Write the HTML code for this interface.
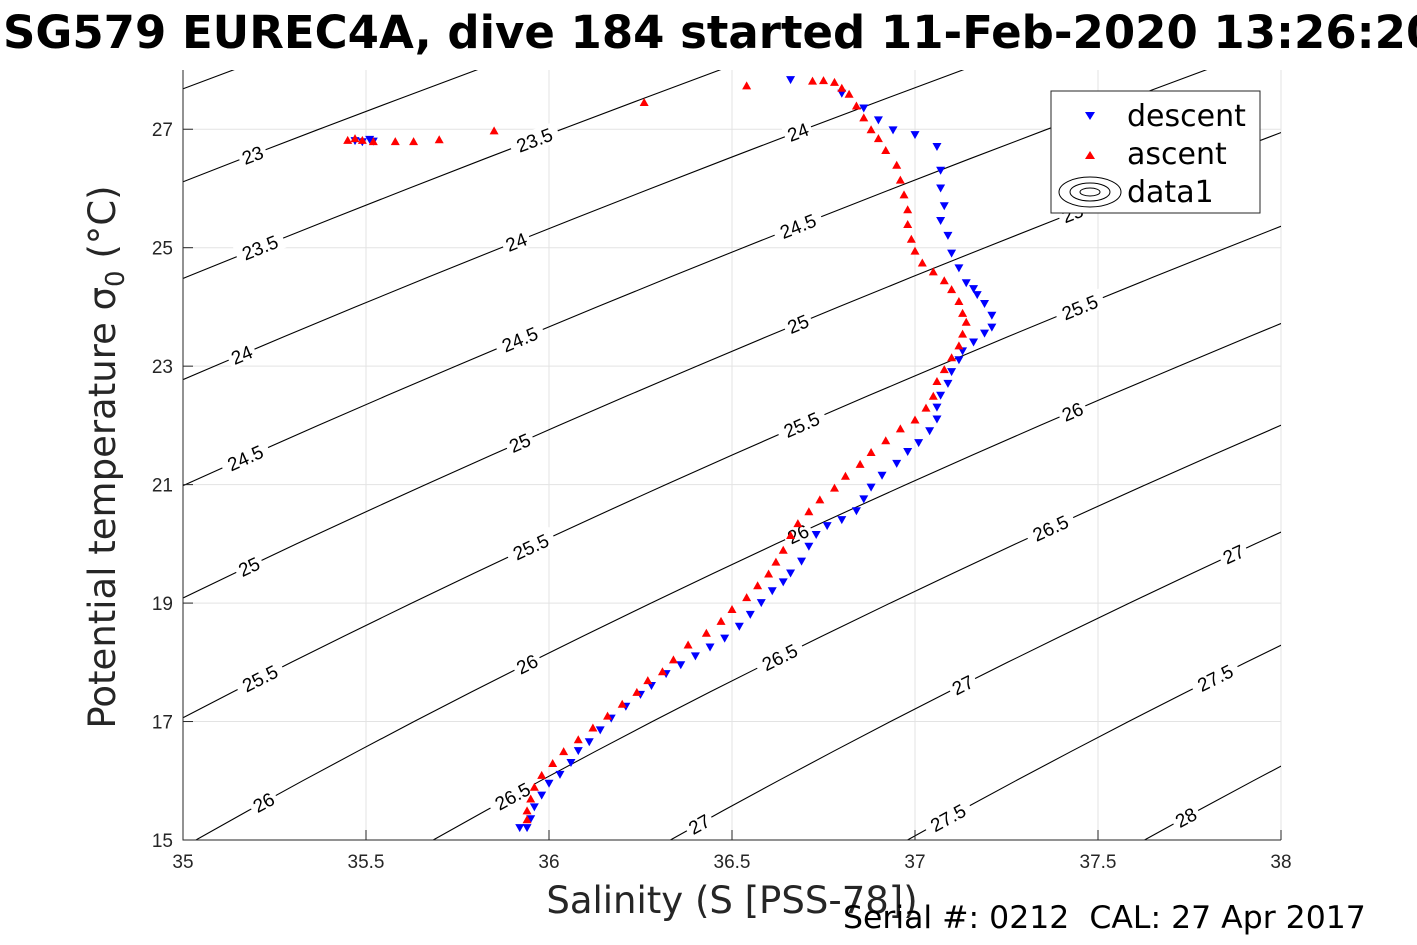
<!DOCTYPE html>
<html><head><meta charset="utf-8">
<style>
html,body{margin:0;padding:0;background:#fff;overflow:hidden;}
svg{display:block;font-family:"Liberation Sans","DejaVu Sans",sans-serif;}
</style></head>
<body>
<svg id="chart" width="1417" height="945" viewBox="0 0 1417 945" xmlns="http://www.w3.org/2000/svg">
<defs><clipPath id="clip"><rect x="183" y="70" width="1098" height="770"/></clipPath></defs>
<rect width="1417" height="945" fill="#fff"/>
<text x="3" y="48" font-size="45" font-weight="bold" fill="#000" font-family="DejaVu Sans, sans-serif">SG579 EUREC4A, dive 184 started 11-Feb-2020 13:26:20</text>
<g id="grid"></g>
<g id="contours" clip-path="url(#clip)"></g>
<g id="clabels"></g>
<g id="series" clip-path="url(#clip)"></g>
<g id="axes"></g>
<text transform="translate(115,457) rotate(-90)" text-anchor="middle" font-size="37" fill="#262626" font-family="DejaVu Sans, sans-serif">Potential temperature σ<tspan font-size="26" dy="9">0</tspan><tspan dy="-9"> (°C)</tspan></text>
<text x="732" y="913" text-anchor="middle" font-size="37" fill="#262626" font-family="DejaVu Sans, sans-serif">Salinity (S [PSS-78])</text>
<text x="843" y="928" font-size="31.5" fill="#000" font-family="DejaVu Sans, sans-serif" xml:space="preserve">Serial #: 0212  CAL: 27 Apr 2017</text>
<g>
<rect x="1051" y="91" width="209" height="122" fill="#fff" stroke="#262626" stroke-width="1"/>
<polygon points="1085,112 1095,112 1090,120" fill="#00f"/>
<text x="1127" y="126" font-size="30" font-family="DejaVu Sans, sans-serif">descent</text>
<polygon points="1085,159 1095,159 1090,151" fill="#f00"/>
<text x="1127" y="164" font-size="30" font-family="DejaVu Sans, sans-serif">ascent</text>
<g fill="none" stroke="#000" stroke-width="1">
<ellipse cx="1090" cy="192" rx="31" ry="15"/><ellipse cx="1090" cy="192" rx="20" ry="9"/><ellipse cx="1090" cy="192" rx="10" ry="4"/></g>
<text x="1127" y="202" font-size="30" font-family="DejaVu Sans, sans-serif">data1</text>
</g>
</svg>
<script>
const xTicks=[35,35.5,36,36.5,37,37.5,38];
const yTicks=[15,17,19,21,23,25,27];
const levels=[22.5,23,23.5,24,24.5,25,25.5,26,26.5,27,27.5,28,28.5];
const labelLevels=[23,23.5,24,23.5,24,24.5,25,24,24.5,25,25.5,24.5,25,25.5,26,25,25.5,26,26.5,25.5,26,26.5,27,26,26.5,27,27.5,27,27.5,28];
const labelS=[35.19,35.96,36.68,35.21,35.91,36.68,37.43,35.16,35.92,36.68,37.45,35.17,35.92,36.69,37.43,35.18,35.95,36.68,37.37,35.21,35.94,36.63,37.87,35.22,35.90,37.13,37.82,36.41,37.09,37.74];
const descS=[35.47,35.49,35.51,35.52,36.66,36.80,36.86,36.90,36.94,37.0,37.06,37.07,37.07,37.08,37.07,37.09,37.10,37.12,37.14,37.16,37.17,37.19,37.21,37.21,37.19,37.16,37.13,37.12,37.10,37.09,37.07,37.06,37.06,37.04,37.01,36.98,36.95,36.91,36.88,36.86,36.84,36.80,36.76,36.73,36.71,36.69,36.66,36.64,36.61,36.58,36.55,36.52,36.48,36.44,36.40,36.36,36.32,36.28,36.25,36.21,36.17,36.14,36.11,36.08,36.06,36.03,36.00,35.98,35.96,35.95,35.94,35.92];
const descT=[26.80,26.78,26.82,26.79,27.83,27.6,27.35,27.15,26.98,26.9,26.7,26.3,26.0,25.7,25.45,25.2,24.9,24.65,24.4,24.3,24.2,24.05,23.85,23.65,23.55,23.4,23.25,23.1,22.9,22.7,22.5,22.3,22.1,21.9,21.7,21.55,21.35,21.15,20.95,20.75,20.55,20.4,20.3,20.15,19.95,19.7,19.5,19.35,19.2,19.0,18.8,18.6,18.4,18.25,18.1,17.95,17.8,17.6,17.45,17.25,17.05,16.85,16.65,16.5,16.3,16.1,15.95,15.75,15.55,15.35,15.2,15.2];
const ascS=[35.45,35.47,35.49,35.52,35.58,35.63,35.70,35.85,36.26,36.54,36.72,36.75,36.78,36.80,36.82,36.84,36.86,36.88,36.90,36.92,36.95,36.96,36.97,36.98,36.98,36.99,37.0,37.02,37.05,37.08,37.10,37.12,37.13,37.14,37.13,37.12,37.10,37.08,37.06,37.05,37.03,37.0,36.96,36.92,36.88,36.85,36.81,36.78,36.74,36.71,36.68,36.66,36.64,36.62,36.60,36.57,36.54,36.50,36.47,36.43,36.38,36.34,36.31,36.27,36.24,36.20,36.16,36.12,36.08,36.04,36.01,35.98,35.96,35.95,35.94,35.94];
const ascT=[26.82,26.85,26.82,26.80,26.80,26.80,26.83,26.98,27.46,27.74,27.82,27.83,27.8,27.7,27.6,27.4,27.2,27.0,26.85,26.65,26.4,26.15,25.9,25.65,25.4,25.15,24.95,24.75,24.6,24.45,24.3,24.1,23.9,23.75,23.55,23.35,23.15,22.95,22.75,22.5,22.3,22.1,21.95,21.75,21.55,21.35,21.15,20.95,20.75,20.55,20.35,20.15,19.9,19.7,19.5,19.3,19.1,18.9,18.7,18.5,18.3,18.05,17.85,17.7,17.5,17.3,17.1,16.9,16.7,16.5,16.3,16.1,15.9,15.7,15.5,15.35];

const X0=183,X1=1281,Y0=840,Y1=70,SMIN=35,SMAX=38,TMIN=15,TMAX=28;
function xs(s){return X0+(s-SMIN)/(SMAX-SMIN)*(X1-X0);}
function ys(t){return Y0-(t-TMIN)/(TMAX-TMIN)*(Y0-Y1);}
function sigma(S,T){
 const rw=999.842594+6.793952e-2*T-9.095290e-3*T*T+1.001685e-4*T**3-1.120083e-6*T**4+6.536332e-9*T**5;
 const r=rw+S*(0.824493-4.0899e-3*T+7.6438e-5*T*T-8.2467e-7*T**3+5.3875e-9*T**4)+Math.pow(S,1.5)*(-5.72466e-3+1.0227e-4*T-1.6546e-6*T*T)+4.8314e-4*S*S;
 return r-1000;}
function solveS(lev,T){let a=25,b=45;for(let i=0;i<50;i++){const m=(a+b)/2;if(sigma(m,T)<lev)a=m;else b=m;}return (a+b)/2;}
function solveT(lev,S){let a=0,b=40;for(let i=0;i<50;i++){const m=(a+b)/2;if(sigma(S,m)>lev)a=m;else b=m;}return (a+b)/2;}
const NS='http://www.w3.org/2000/svg';
function mk(tag,attrs,parent){const e=document.createElementNS(NS,tag);for(const k in attrs)e.setAttribute(k,attrs[k]);parent.appendChild(e);return e;}
const grid=document.getElementById('grid'),axes=document.getElementById('axes');
xTicks.forEach(v=>{
 const g=mk('line',{x1:xs(v),x2:xs(v),y1:Y1,y2:Y0,stroke:'#e3e3e3','stroke-width':1},grid);
 
 
 const t=mk('line',{x1:xs(v),x2:xs(v),y1:Y0,y2:Y0-10,stroke:'#262626','stroke-width':1},axes);
 
 
 const l=mk('text',{x:xs(v),y:868,'text-anchor':'middle','font-size':19,fill:'#262626'},axes);
 l.textContent=String(v);
 
 
});
yTicks.forEach(v=>{
 const g=mk('line',{x1:X0,x2:X1,y1:ys(v),y2:ys(v),stroke:'#e3e3e3','stroke-width':1},grid);
 
 
 const t=mk('line',{x1:X0,x2:X0+10,y1:ys(v),y2:ys(v),stroke:'#262626','stroke-width':1},axes);
 
 
 const l=mk('text',{x:173,y:ys(v)+7,'text-anchor':'end','font-size':19,fill:'#262626'},axes);
 l.textContent=String(v);
 
 
});
const ax=mk('path',{d:`M${X0},${Y1}V${Y0}H${X1}`,fill:'none',stroke:'#262626','stroke-width':1},axes);


const cg=document.getElementById('contours');
levels.forEach(lev=>{
 let d='';for(let T=13;T<=29.01;T+=0.5){const S=solveS(lev,T);d+=(d?'L':'M')+xs(S).toFixed(1)+','+ys(T).toFixed(1);}
 const p=mk('path',{d:d,fill:'none',stroke:'#000','stroke-width':1.1},cg);
 
 
});
const lg=document.getElementById('clabels');
labelLevels.forEach((lev,i)=>{
 const S=labelS[i],T=solveT(lev,S);
 const T2=solveT(lev,S+0.05);
 const ang=Math.atan2(ys(T2)-ys(T),xs(S+0.05)-xs(S))*180/Math.PI;
 const x=xs(S),y=ys(T);
 const txt=String(lev);
 const w=txt.length*11+6;
 const g=mk('g',{transform:`translate(${x.toFixed(1)},${y.toFixed(1)}) rotate(${ang.toFixed(1)})`},lg);
 
 
 mk('rect',{x:-w/2,y:-10,width:w,height:20,fill:'#fff'},g);
 const t=mk('text',{x:0,y:7,'text-anchor':'middle','font-size':19,fill:'#000'},g);
 t.textContent=txt;
});
const sg=document.getElementById('series');
descS.forEach((s,i)=>{
 const x=xs(s),y=ys(descT[i]);
 const p=mk('polygon',{points:`${x-4.5},${y-4} ${x+4.5},${y-4} ${x},${y+4}`,fill:'#00f'},sg);
 
 
});
ascS.forEach((s,i)=>{
 const x=xs(s),y=ys(ascT[i]);
 const p=mk('polygon',{points:`${x-4.5},${y+4} ${x+4.5},${y+4} ${x},${y-4}`,fill:'#f00'},sg);
 
 
});
</script>
</body></html>
